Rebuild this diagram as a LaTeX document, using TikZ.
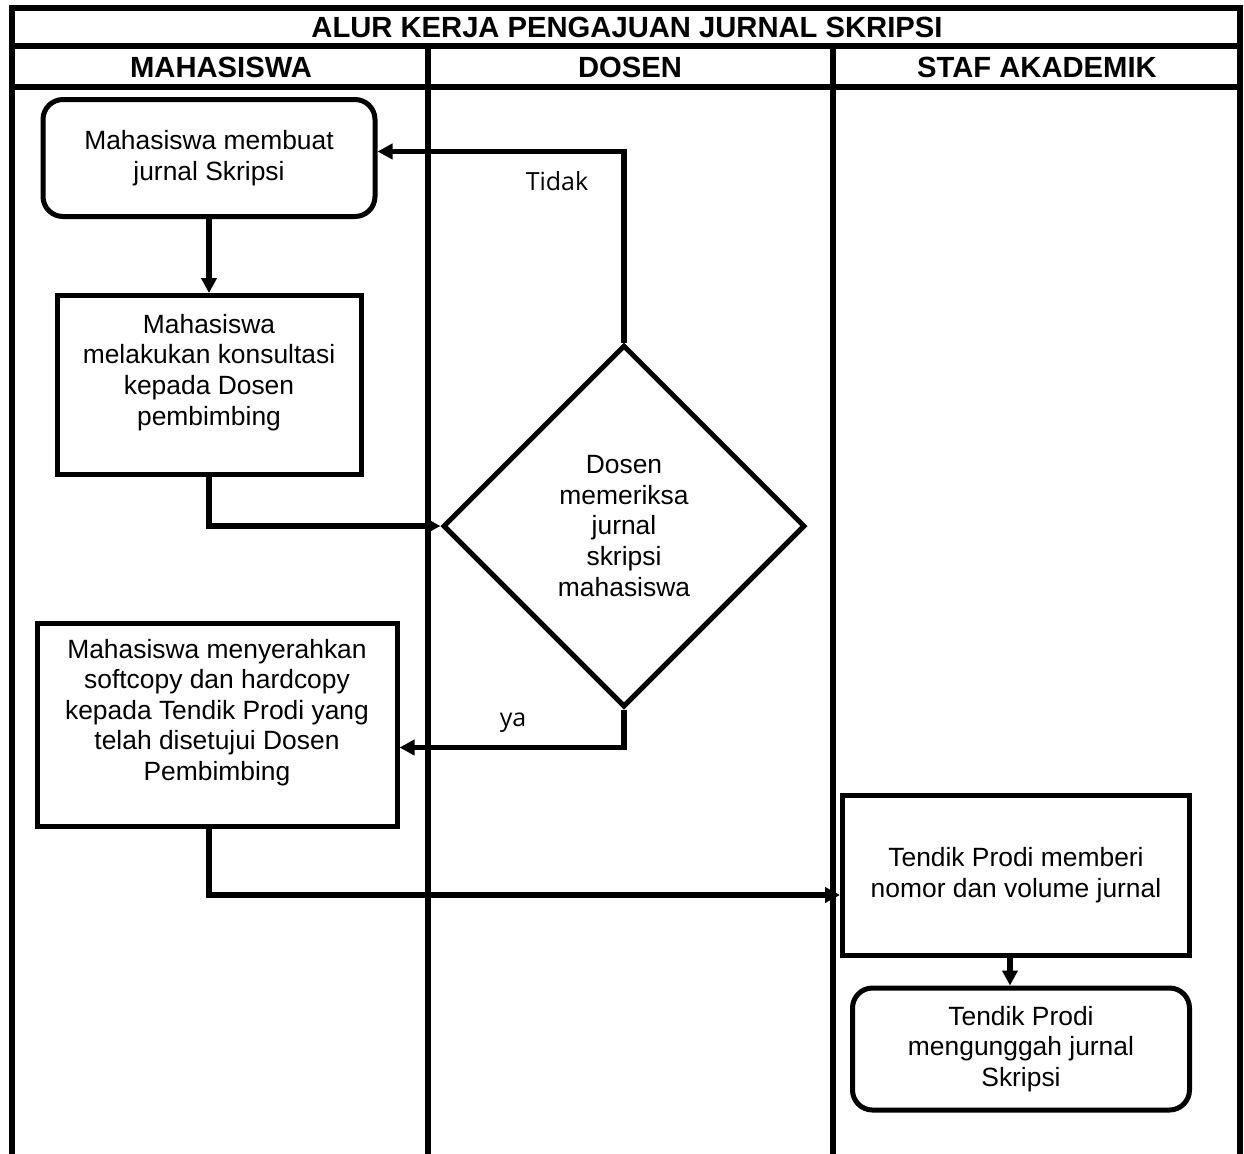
\documentclass[tikz,border=0pt]{standalone}
\usepackage{fontspec}
\setmainfont{Liberation Sans}
\newfontfamily\labelfont{Open Sans}
\usetikzlibrary{shapes.geometric,arrows.meta}

\begin{document}
\begin{tikzpicture}[x=0.5pt,y=-0.5pt]
	\tikzstyle{lajur}=[line width=2.8pt]
	\tikzstyle{judul}=[font=\fontsize{14.6}{16}\selectfont\bfseries]
	\tikzstyle{kotak}=[draw, line width=2.5pt, align=center, inner sep=2pt, font=\fontsize{13.2}{15.3}\selectfont]
	\tikzstyle{bulat}=[kotak, rounded corners=10pt]
	\tikzstyle{keputusan}=[kotak, shape=diamond, aspect=1, inner sep=0pt, minimum size=181pt]
	\tikzstyle{panah}=[line width=2.8pt, -{Triangle[length=7.5pt,width=7.5pt]}]
	\tikzstyle{ket}=[font=\labelfont\fontsize{12.5}{14}\selectfont]
	\useasboundingbox (0,0) rectangle (1244,1153);
	\draw[lajur] (12,1160) -- (12,8) -- (1240,8) -- (1240,1160);
	\draw[lajur] (12,46) -- (1240,46)
	             (12,87) -- (1240,87);
	\draw[lajur] (428,46) -- (428,1160)
	             (833,46) -- (833,1160);
	\path (627,27) node[judul] (jdl) {ALUR KERJA PENGAJUAN JURNAL SKRIPSI}
	      (221,67) node[judul] (mhs) {MAHASISWA}
	      (630,67) node[judul] (dsn) {DOSEN}
	      (1037,67) node[judul] (stf) {STAF AKADEMIK};
	\path (209,158) node[bulat, minimum width=166pt, minimum height=58.5pt] (m1) {Mahasiswa membuat\\jurnal Skripsi}
	      (209,385) node[kotak, minimum width=152pt, minimum height=89.5pt] (m2) {Mahasiswa\\melakukan konsultasi\\kepada Dosen\\pembimbing\\~}
	      (624,526) node[keputusan] (d1) {Dosen\\memeriksa\\jurnal\\skripsi\\mahasiswa}
	      (217,725) node[kotak, minimum width=180pt, minimum height=101.5pt] (m3) {Mahasiswa menyerahkan\\softcopy dan hardcopy\\kepada Tendik Prodi yang\\telah disetujui Dosen\\Pembimbing\\~}
	      (1016,875) node[kotak, minimum width=173.5pt, minimum height=80pt] (s1) {Tendik Prodi memberi\\nomor dan volume jurnal}
	      (1021,1049) node[bulat, minimum width=168.5pt, minimum height=61pt] (s2) {Tendik Prodi\\mengunggah jurnal\\Skripsi};
	\path (557,181) node[ket] (tdk) {Tidak}
	      (513,723) node[ket] (ya) {ya};
	\draw[panah] (m1) -- (m2);
	\draw[panah] (m2.south) |- (d1.west);
	\draw[panah] (d1.north) |- ([yshift=3.25pt]m1.east);
	\draw[panah] (d1.south) |- ([yshift=-11.25pt]m3.east);
	\draw[panah] ([xshift=-4pt]m3.south) |- ([yshift=-10pt]s1.west);
	\draw[panah] ([xshift=-3pt]s1.south) -- ([xshift=-3pt]s1.south |- s2.north);
\end{tikzpicture}
\end{document}
